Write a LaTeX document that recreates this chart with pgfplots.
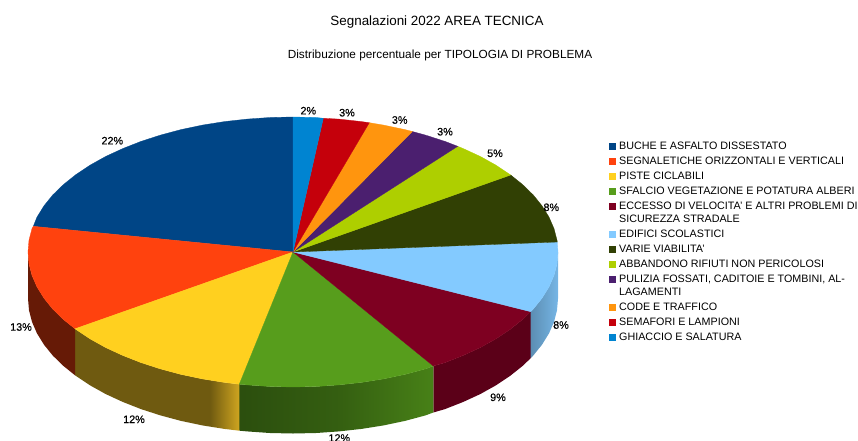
\documentclass[border=0pt]{standalone}
\usepackage{fontspec}
\setmainfont{Liberation Sans}
\usepackage{pgfplots}
\pgfplotsset{compat=1.18}

\definecolor{cbuche}{HTML}{004586}
\definecolor{csegn}{HTML}{FF420E}
\definecolor{cpiste}{HTML}{FFD320}
\definecolor{csfalcio}{HTML}{579D1C}
\definecolor{cecc}{HTML}{7E0021}
\definecolor{cedif}{HTML}{83CAFF}
\definecolor{cvarie}{HTML}{314004}
\definecolor{cabb}{HTML}{AECF00}
\definecolor{cpul}{HTML}{4B1F6F}
\definecolor{ccode}{HTML}{FF950E}
\definecolor{csem}{HTML}{C5000B}
\definecolor{cghi}{HTML}{0084D1}
\definecolor{pa}{HTML}{6F5A10}
\definecolor{pb}{HTML}{CFA520}

% side shadings (path box maps to 25bp..75bp)
\pgfdeclarehorizontalshading{pisteside}{100bp}{color(0bp)=(pa);color(66bp)=(pa);color(75bp)=(pb);color(100bp)=(pb)}
\pgfdeclarehorizontalshading{sfalside}{100bp}{color(0bp)=(csfalcio!50!black);color(25bp)=(csfalcio!50!black);color(50bp)=(csfalcio!60!black);color(75bp)=(csfalcio!82!black);color(100bp)=(csfalcio!82!black)}
\pgfdeclarehorizontalshading{edifside}{100bp}{color(0bp)=(cedif!70!black);color(25bp)=(cedif!70!black);color(75bp)=(cedif!90!black);color(100bp)=(cedif!90!black)}

\newcommand{\leg}[1]{\fontsize{10.75}{12.5}\selectfont\rule[-4pt]{0pt}{13.5pt}#1}
% second line of a wrapped entry, closer to the line above
\newcommand{\legb}[1]{\fontsize{10.75}{12.5}\selectfont\rule[-4pt]{0pt}{11pt}#1}
\newcommand{\lab}[1]{\fontsize{10.8}{12}\selectfont\addfontfeature{FakeBold=0.3}#1}

\begin{document}
\begin{tikzpicture}
\useasboundingbox (0,0) rectangle (858pt,441pt);
\begin{axis}[
    at={(0,0)}, anchor=south west,
    scale only axis, width=858pt, height=441pt,
    xmin=0, xmax=858, ymin=0, ymax=441,
    y dir=reverse,
    hide axis, clip=false,
    legend image code/.code={\path[#1] (0pt,0.6pt) rectangle (6pt,6.6pt);},
    legend cell align=left,
    legend style={at={(axis cs:609,137.6)}, anchor=north west, draw=none, fill=none,
        inner sep=0pt, row sep=0pt, column sep=1.7pt,
        cells={anchor=base west, inner sep=0pt}},
]
% sides
\addplot[forget plot, draw=none, shading=edifside] coordinates {(558,252)(557,263.8)(554,275.4)(549,286.9)(542,298.2)(533.2,309.1)(530.7,311.7)(530.7,358.2)(533.2,355.6)(542,344.7)(549,333.4)(554,321.9)(557,310.3)(558,298.5)} -- cycle;
\addplot[forget plot, fill=cecc!72!black, draw=none] coordinates {(530.7,311.7)(522.5,319.5)(510.1,329.4)(496,338.8)(480.4,347.5)(463.3,355.4)(445,362.6)(433.3,366)(433.3,412.5)(445,409.1)(463.3,401.9)(480.4,394)(496,385.3)(510.1,375.9)(522.5,366)(530.7,358.2)} -- cycle;
\addplot[forget plot, draw=none, shading=sfalside] coordinates {(433.3,366)(425.5,368.9)(405,374.4)(383.6,378.9)(361.6,382.4)(339,384.9)(316.1,386.5)(293,387)(269.9,386.5)(247,384.9)(239.3,384.2)(239.3,430.7)(247,431.4)(269.9,433)(293,433.5)(316.1,433)(339,431.4)(361.6,428.9)(383.6,425.4)(405,420.9)(425.5,415.4)(433.3,412.5)} -- cycle;
\addplot[forget plot, draw=none, shading=pisteside] coordinates {(239.3,384.2)(224.4,382.4)(202.4,378.9)(181,374.4)(160.5,368.9)(141,362.6)(122.7,355.4)(105.6,347.5)(90,338.8)(75.9,329.4)(75,328.8)(75,375.3)(75.9,375.9)(90,385.3)(105.6,394)(122.7,401.9)(141,409.1)(160.5,415.4)(181,420.9)(202.4,425.4)(224.4,428.9)(239.3,430.7)} -- cycle;
\addplot[forget plot, fill=csegn!40!black, draw=none] coordinates {(75,328.8)(63.5,319.5)(52.8,309.1)(44,298.2)(37,286.9)(32,275.4)(29,263.8)(28,252)(28,298.5)(29,310.3)(32,321.9)(37,333.4)(44,344.7)(52.8,355.6)(63.5,366)(75,375.3)} -- cycle;
% top face, one wedge for each category
\addplot[fill=cbuche, draw=cbuche, line width=.3pt] coordinates {(293,252)(33.3,226.3)(37,217.1)(44,205.8)(52.8,194.9)(63.5,184.5)(75.9,174.6)(90,165.2)(105.6,156.5)(122.7,148.6)(141,141.4)(160.5,135.1)(181,129.6)(202.4,125.1)(224.4,121.6)(247,119.1)(269.9,117.5)(293,117)} -- cycle;
\addlegendentry{\leg{BUCHE E ASFALTO DISSESTATO}}
\addplot[fill=csegn, draw=csegn, line width=.3pt] coordinates {(293,252)(75,328.8)(63.5,319.5)(52.8,309.1)(44,298.2)(37,286.9)(32,275.4)(29,263.8)(28,252)(29,240.2)(32,228.6)(33.3,226.3)} -- cycle;
\addlegendentry{\leg{SEGNALETICHE ORIZZONTALI E VERTICALI}}
\addplot[fill=cpiste!96!orange, draw=cpiste!96!orange, line width=.3pt] coordinates {(293,252)(239.3,384.2)(224.4,382.4)(202.4,378.9)(181,374.4)(160.5,368.9)(141,362.6)(122.7,355.4)(105.6,347.5)(90,338.8)(75.9,329.4)(75,328.8)} -- cycle;
\addlegendentry{\leg{PISTE CICLABILI}}
\addplot[fill=csfalcio, draw=csfalcio, line width=.3pt] coordinates {(293,252)(433.3,366)(425.5,368.9)(405,374.4)(383.6,378.9)(361.6,382.4)(339,384.9)(316.1,386.5)(293,387)(269.9,386.5)(247,384.9)(239.3,384.2)} -- cycle;
\addlegendentry{\leg{SFALCIO VEGETAZIONE E POTATURA ALBERI}}
\addplot[fill=cecc, draw=cecc, line width=.3pt] coordinates {(293,252)(530.7,311.7)(522.5,319.5)(510.1,329.4)(496,338.8)(480.4,347.5)(463.3,355.4)(445,362.6)(433.3,366)} -- cycle;
\addlegendentry{\leg{ECCESSO DI VELOCITA' E ALTRI PROBLEMI DI}}
\addlegendimage{empty legend}
\addlegendentry{\legb{SICUREZZA STRADALE}}
\addplot[fill=cedif, draw=cedif, line width=.3pt] coordinates {(293,252)(557.3,242)(558,252)(557,263.8)(554,275.4)(549,286.9)(542,298.2)(533.2,309.1)(530.7,311.7)} -- cycle;
\addlegendentry{\leg{EDIFICI SCOLASTICI}}
\addplot[fill=cvarie, draw=cvarie, line width=.3pt] coordinates {(293,252)(510.7,175)(522.5,184.5)(533.2,194.9)(542,205.8)(549,217.1)(554,228.6)(557,240.2)(557.3,242)} -- cycle;
\addlegendentry{\leg{VARIE VIABILITA'}}
\addplot[fill=cabb, draw=cabb, line width=.3pt] coordinates {(293,252)(457.7,146.3)(463.3,148.6)(480.4,156.5)(496,165.2)(510.1,174.6)(510.7,175)} -- cycle;
\addlegendentry{\leg{ABBANDONO RIFIUTI NON PERICOLOSI}}
\addplot[fill=cpul, draw=cpul, line width=.3pt] coordinates {(293,252)(412.3,131.5)(425.5,135.1)(445,141.4)(457.7,146.3)} -- cycle;
\addlegendentry{\leg{PULIZIA FOSSATI, CADITOIE E TOMBINI, AL-}}
\addlegendimage{empty legend}
\addlegendentry{\legb{LAGAMENTI}}
\addplot[fill=ccode, draw=ccode, line width=.3pt] coordinates {(293,252)(369.3,122.7)(383.6,125.1)(405,129.6)(412.3,131.5)} -- cycle;
\addlegendentry{\leg{CODE E TRAFFICO}}
\addplot[fill=csem, draw=csem, line width=.3pt] coordinates {(293,252)(323.3,118.3)(339,119.1)(361.6,121.6)(369.3,122.7)} -- cycle;
\addlegendentry{\leg{SEMAFORI E LAMPIONI}}
\addplot[fill=cghi, draw=cghi, line width=.3pt] coordinates {(293,252)(293,117)(316.1,117.5)(323.3,118.3)} -- cycle;
\addlegendentry{\leg{GHIACCIO E SALATURA}}

% titles
\node[font=\fontsize{13.4}{15}\selectfont] at (axis cs:437,22.5) {Segnalazioni 2022 AREA TECNICA};
\node[font=\fontsize{11.8}{14}\selectfont] at (axis cs:440,55) {Distribuzione percentuale per TIPOLOGIA DI PROBLEMA};
% percentages
\node at (axis cs:112.3,140.7) {\lab{22\%}};
\node at (axis cs:21,327) {\lab{13\%}};
\node at (axis cs:134,419.3) {\lab{12\%}};
\node at (axis cs:339.3,438) {\lab{12\%}};
\node at (axis cs:498,397.3) {\lab{9\%}};
\node at (axis cs:561,325) {\lab{8\%}};
\node at (axis cs:551.3,207.3) {\lab{8\%}};
\node at (axis cs:495,153.3) {\lab{5\%}};
\node at (axis cs:445,131.7) {\lab{3\%}};
\node at (axis cs:399.7,120) {\lab{3\%}};
\node at (axis cs:347,112.7) {\lab{3\%}};
\node at (axis cs:308.3,110.7) {\lab{2\%}};
\end{axis}
\end{tikzpicture}
\end{document}
